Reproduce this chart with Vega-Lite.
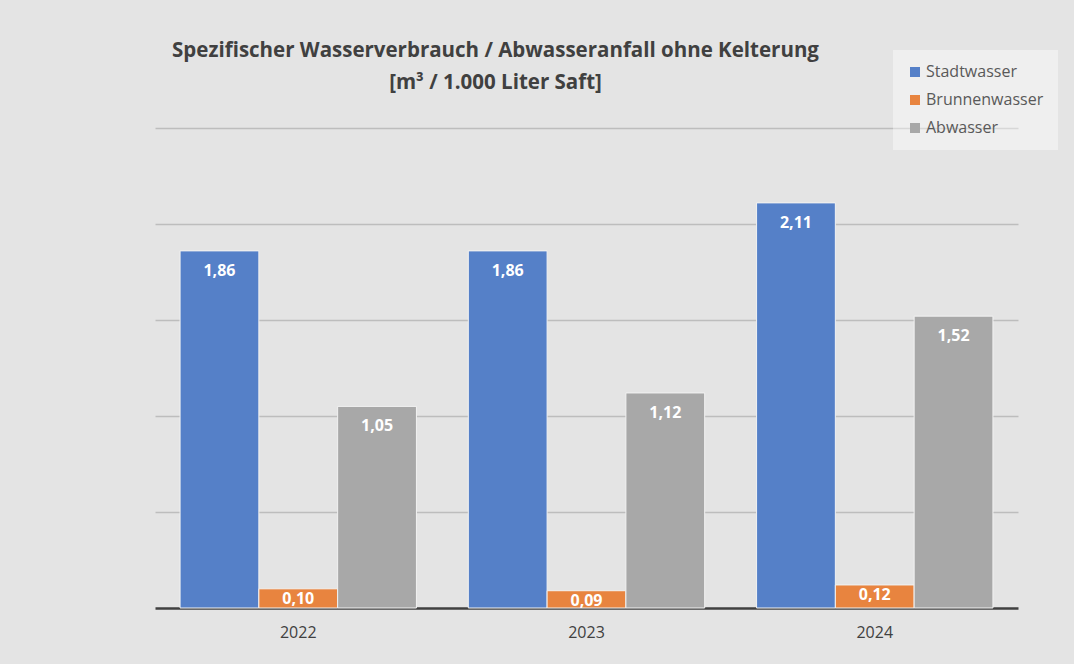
{
  "$schema": "https://vega.github.io/schema/vega-lite/v6.json",
  "autosize": {"type": "none"},
  "width": 863,
  "height": 480,
  "padding": {"left": 155, "top": 128, "right": 56, "bottom": 56},
  "background": "#e4e4e4",
  "config": {
    "locale": {"number": {"decimal": ",", "thousands": ".", "grouping": [3], "currency": ["", " €"]}},
    "view": {"stroke": null},
    "font": "Open Sans"
  },
  "title": {
    "text": ["Spezifischer Wasserverbrauch / Abwasseranfall ohne Kelterung", "[m³ / 1.000 Liter Saft]"],
    "anchor": "middle",
    "dx": -91,
    "offset": -43,
    "font": "Open Sans",
    "fontSize": 20.5,
    "fontWeight": "bold",
    "color": "#404040",
    "lineHeight": 32
  },
  "data": {
    "values": [
      {"Jahr": "2022", "Serie": "Stadtwasser", "Wert": 1.86},
      {"Jahr": "2022", "Serie": "Brunnenwasser", "Wert": 0.10},
      {"Jahr": "2022", "Serie": "Abwasser", "Wert": 1.05},
      {"Jahr": "2023", "Serie": "Stadtwasser", "Wert": 1.86},
      {"Jahr": "2023", "Serie": "Brunnenwasser", "Wert": 0.09},
      {"Jahr": "2023", "Serie": "Abwasser", "Wert": 1.12},
      {"Jahr": "2024", "Serie": "Stadtwasser", "Wert": 2.11},
      {"Jahr": "2024", "Serie": "Brunnenwasser", "Wert": 0.12},
      {"Jahr": "2024", "Serie": "Abwasser", "Wert": 1.52}
    ]
  },
  "encoding": {
    "x": {
      "field": "Jahr", "type": "nominal",
      "scale": {"paddingInner": 0.18, "paddingOuter": 0.087},
      "axis": {
        "title": null, "labelAngle": 0, "ticks": false,
        "domainColor": "#404040", "domainWidth": 2.5,
        "labelFontSize": 16, "labelColor": "#404040", "labelPadding": 16,
        "labelFont": "Open Sans"
      }
    },
    "xOffset": {
      "field": "Serie", "type": "nominal",
      "sort": ["Stadtwasser", "Brunnenwasser", "Abwasser"],
      "scale": {"paddingInner": 0}
    },
    "y": {
      "field": "Wert", "type": "quantitative",
      "scale": {"domain": [0, 2.5], "nice": false},
      "axis": {
        "title": null, "labels": false, "ticks": false, "domain": false,
        "values": [0.5, 1, 1.5, 2, 2.5],
        "grid": true, "gridColor": "#bdbdbd", "gridWidth": 1.5
      }
    }
  },
  "layer": [
    {
      "mark": {"type": "bar", "stroke": "#f2f2f2", "strokeWidth": 1},
      "encoding": {
        "color": {
          "field": "Serie", "type": "nominal",
          "sort": ["Stadtwasser", "Brunnenwasser", "Abwasser"],
          "scale": {"domain": ["Stadtwasser", "Brunnenwasser", "Abwasser"], "range": ["#5580c8", "#e8843f", "#a8a8a8"]},
          "legend": {
            "title": null,
            "orient": "none",
            "legendX": 738,
            "legendY": -78,
            "symbolType": "square",
            "symbolSize": 100,
            "symbolStrokeWidth": 0,
            "labelFontSize": 16,
            "labelColor": "#595959",
            "labelFont": "Open Sans",
            "rowPadding": 12,
            "fillColor": "rgba(255,255,255,0.4)",
            "padding": 14,
            "labelOffset": 3
          }
        }
      }
    },
    {
      "transform": [{"filter": "datum.Wert >= 0.5"}],
      "mark": {"type": "text", "baseline": "middle", "dy": 20, "color": "white", "fontWeight": "bold", "fontSize": 16, "font": "Open Sans"},
      "encoding": {
        "text": {"field": "Wert", "type": "quantitative", "format": ".2f"},
        "detail": {"field": "Serie"}
      }
    },
    {
      "transform": [{"filter": "datum.Wert < 0.5"}],
      "mark": {"type": "text", "baseline": "middle", "dy": 10, "color": "white", "fontWeight": "bold", "fontSize": 16, "font": "Open Sans"},
      "encoding": {
        "text": {"field": "Wert", "type": "quantitative", "format": ".2f"},
        "detail": {"field": "Serie"}
      }
    }
  ]
}
